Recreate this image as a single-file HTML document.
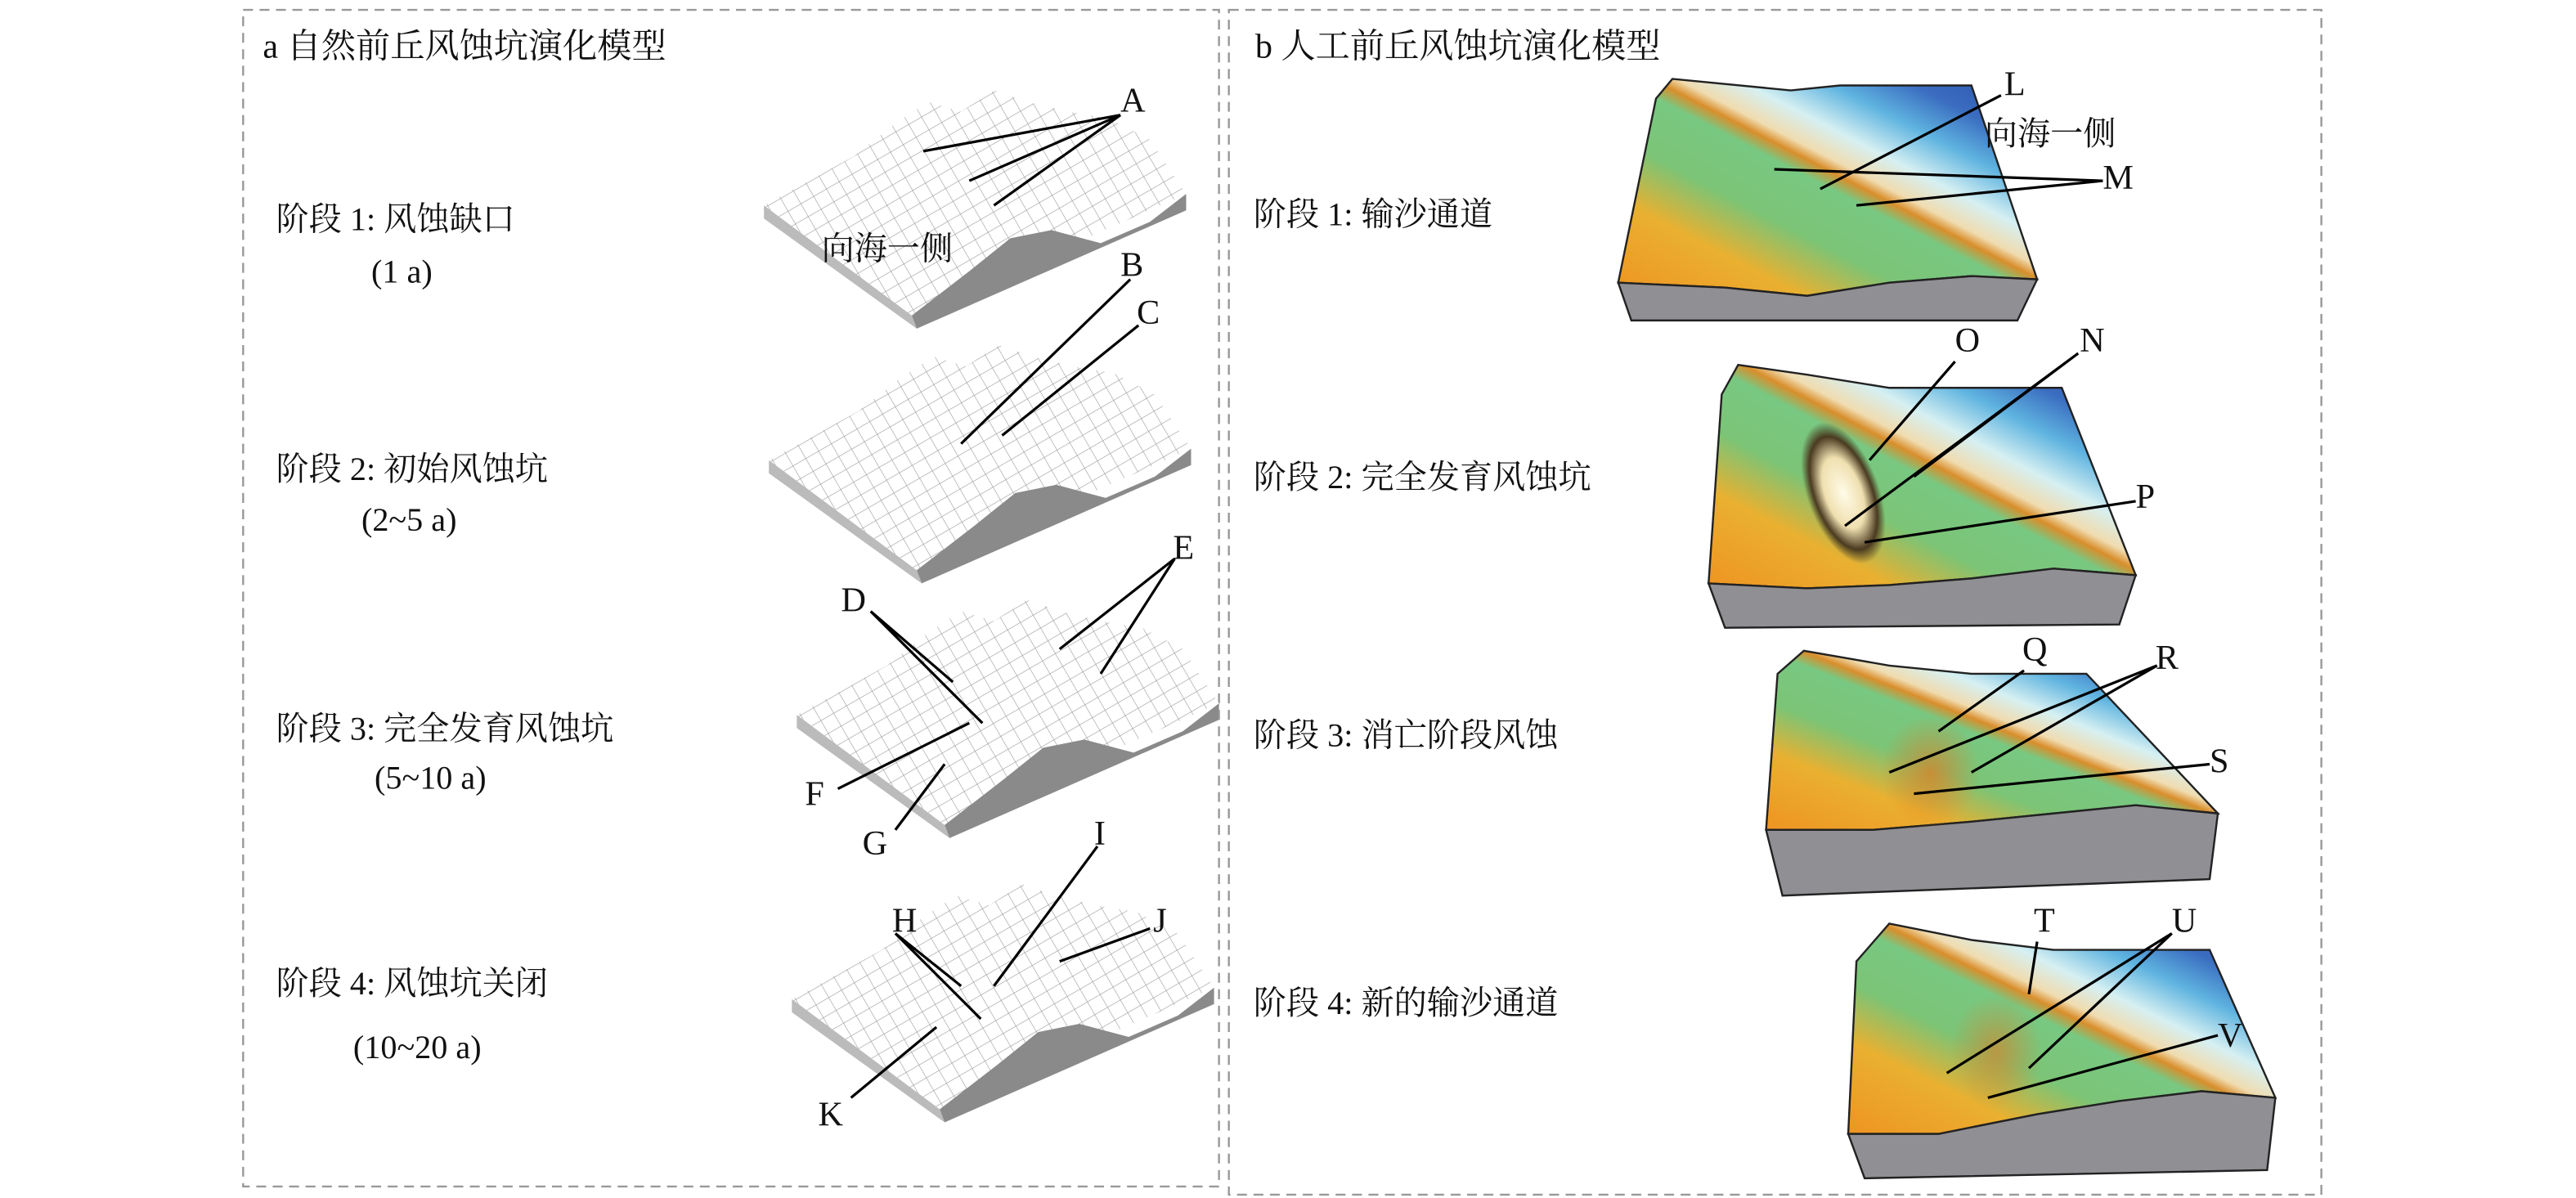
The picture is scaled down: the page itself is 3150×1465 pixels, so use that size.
<!DOCTYPE html>
<html><head><meta charset="utf-8"><style>
html,body{margin:0;padding:0;background:#fff;}
svg{display:block;}
text{font-family:"Liberation Serif","Noto Serif CJK SC","Noto Sans CJK SC",serif;fill:#111;}
</style></head><body>
<svg width="3150" height="1465" viewBox="0 0 1568 729" preserveAspectRatio="none" xmlns="http://www.w3.org/2000/svg">
<defs>
<pattern id="grid" width="9" height="9" patternUnits="userSpaceOnUse" patternTransform="rotate(-30)">
<path d="M0 0H9M0 0V9" stroke="#999" stroke-width="0.6" fill="none"/>
</pattern>
<linearGradient id="terr" x1="0" y1="1" x2="1" y2="0">
<stop offset="0" stop-color="#ee9422"/>
<stop offset="0.22" stop-color="#eab030"/>
<stop offset="0.36" stop-color="#7cc476"/>
<stop offset="0.5" stop-color="#78c882"/>
<stop offset="0.54" stop-color="#d98e2c"/>
<stop offset="0.57" stop-color="#f0dcb0"/>
<stop offset="0.64" stop-color="#d6f0f2"/>
<stop offset="0.74" stop-color="#5fb4e0"/>
<stop offset="0.84" stop-color="#3a6cc0"/>
<stop offset="1" stop-color="#2a4fa8"/>
</linearGradient>
<radialGradient id="pit"><stop offset="0" stop-color="#fffbe8"/><stop offset="0.5" stop-color="#f0e0b0"/><stop offset="0.8" stop-color="#4a3a20"/><stop offset="1" stop-color="#4a3a20" stop-opacity="0"/></radialGradient>
<radialGradient id="opit"><stop offset="0" stop-color="#e07a20"/><stop offset="1" stop-color="#e07a20" stop-opacity="0"/></radialGradient>
</defs>
<rect x="148" y="6" width="594" height="716" fill="none" stroke="#999" stroke-dasharray="6,4" stroke-width="1.2"/>
<rect x="748" y="6" width="665" height="721" fill="none" stroke="#999" stroke-dasharray="6,4" stroke-width="1.2"/>
<text x="160" y="35" font-size="21">a 自然前丘风蚀坑演化模型</text>
<text x="764" y="35" font-size="21">b 人工前丘风蚀坑演化模型</text>

<g font-size="20">
<text x="168" y="140">阶段 1: 风蚀缺口</text><text x="226" y="172">(1 a)</text>
<text x="168" y="292">阶段 2: 初始风蚀坑</text><text x="220" y="323">(2~5  a)</text>
<text x="168" y="450">阶段 3: 完全发育风蚀坑</text><text x="228" y="480">(5~10 a)</text>
<text x="168" y="605">阶段 4: 风蚀坑关闭</text><text x="215" y="644">(10~20 a)</text>
<text x="763" y="137">阶段 1: 输沙通道</text>
<text x="763" y="297">阶段 2: 完全发育风蚀坑</text>
<text x="763" y="454">阶段 3: 消亡阶段风蚀</text>
<text x="763" y="617">阶段 4: 新的输沙通道</text>
</g>

<g id="b1">
<polygon points="465,125 520,95 545,75 565,62 585,68 605,55 625,62 650,68 675,72 700,85 722,118 722,128 558,200 465,133" fill="#fff"/>
<polygon points="465,125 520,95 545,75 565,62 585,68 605,55 625,62 650,68 675,72 700,85 722,118 555,192" fill="url(#grid)"/>
<polygon points="555,192 590,165 615,145 640,140 670,148 700,135 722,118 722,128 558,200" fill="#8a8a8a"/>
<polygon points="465,125 555,192 558,200 465,133" fill="#bbb"/>
</g>
<use href="#b1" x="3" y="155"/>
<use href="#b1" x="20" y="310"/>
<use href="#b1" x="17" y="483"/>

<g stroke="#222" stroke-width="1.2">
<polygon points="985,172 1008,60 1018,48 1090,55 1120,52 1200,52 1240,170 1200,168 1150,172 1100,180 1050,175" fill="url(#terr)"/>
<polygon points="985,172 1050,175 1100,180 1150,172 1200,168 1240,170 1228,195 993,195" fill="#8f8f94"/>
<polygon points="1040,355 1048,240 1058,222 1100,228 1150,236 1255,236 1300,350 1250,346 1200,352 1150,356 1100,358" fill="url(#terr)"/>
<polygon points="1040,355 1100,358 1150,356 1200,352 1250,346 1300,350 1290,380 1050,382" fill="#8f8f94"/>
<polygon points="1075,505 1082,410 1098,396 1150,405 1200,410 1270,410 1350,495 1300,490 1250,495 1200,500 1140,505" fill="url(#terr)"/>
<polygon points="1075,505 1140,505 1200,500 1250,495 1300,490 1350,495 1345,535 1085,545" fill="#8f8f94"/>
<polygon points="1125,690 1130,585 1150,562 1200,572 1250,578 1345,578 1385,668 1340,664 1290,670 1240,678 1180,690" fill="url(#terr)"/>
<polygon points="1125,690 1180,690 1240,678 1290,670 1340,664 1385,668 1380,712 1135,717" fill="#8f8f94"/>
</g>
<ellipse cx="1122" cy="300" rx="22" ry="45" fill="url(#pit)" transform="rotate(-20 1122 300)"/>
<ellipse cx="1175" cy="470" rx="30" ry="35" fill="url(#opit)" opacity="0.7"/>
<ellipse cx="1215" cy="640" rx="28" ry="35" fill="url(#opit)" opacity="0.6"/>

<g stroke="#000" stroke-width="1.6" fill="none">
<path d="M682 70L562 92M682 70L590 110M682 70L605 125"/>
<path d="M688 170L585 270M693 198L610 265"/>
<path d="M530 372L580 415M530 372L598 440M715 340L645 395M715 340L670 410M510 480L590 440M545 505L575 465"/>
<path d="M545 568L585 600M545 568L597 620M668 515L605 600M700 565L645 585M518 668L570 625"/>
<path d="M1218 58L1108 115M1280 110L1080 103M1280 110L1130 125"/>
<path d="M1190 220L1138 280M1265 215L1123 320M1265 215L1165 290M1300 305L1135 330"/>
<path d="M1232 408L1180 445M1313 405L1150 470M1313 405L1200 470M1345 465L1165 483"/>
<path d="M1240 573L1235 605M1322 568L1185 653M1322 568L1235 650M1350 630L1210 668"/>
</g>
<g font-size="21">
<text x="682" y="68">A</text><text x="682" y="168">B</text><text x="692" y="197">C</text>
<text x="512" y="372">D</text><text x="714" y="340">E</text><text x="490" y="490">F</text><text x="525" y="520">G</text>
<text x="543" y="567">H</text><text x="666" y="514">I</text><text x="702" y="567">J</text><text x="498" y="685">K</text>
<text x="1220" y="58">L</text><text x="1280" y="115">M</text><text x="1190" y="214">O</text><text x="1266" y="214">N</text>
<text x="1300" y="309">P</text><text x="1231" y="402">Q</text><text x="1312" y="407">R</text><text x="1345" y="470">S</text>
<text x="1238" y="567">T</text><text x="1322" y="567">U</text><text x="1350" y="637">V</text>
</g>
<text x="500" y="158" font-size="20">向海一侧</text>
<text x="1208" y="88" font-size="20">向海一侧</text>
</svg>
</body></html>
